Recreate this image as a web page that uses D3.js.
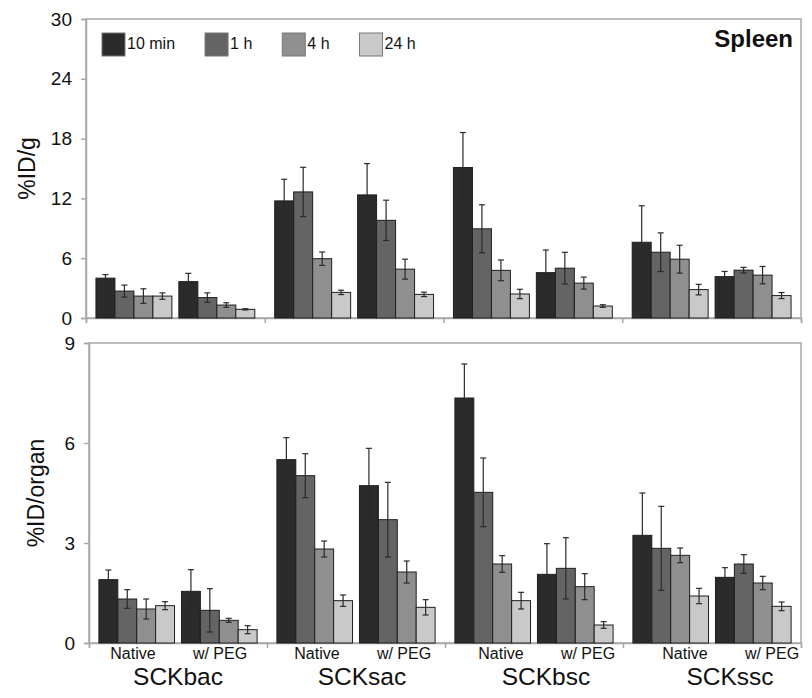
<!DOCTYPE html>
<html><head><meta charset="utf-8">
<script src="https://cdn.jsdelivr.net/npm/d3@7"></script>
<style>
html,body{margin:0;padding:0;background:#fff;}
svg{display:block;font-family:"Liberation Sans",Arial,sans-serif;}
</style></head>
<body><svg id="chart" width="812" height="698"></svg>
<script>
const categories = ['SCKbac','SCKsac','SCKbsc','SCKssc'];
const forms = ['Native','w/ PEG'];
const times = ['10 min','1 h','4 h','24 h'];
const colors = ['#2b2b2b','#646464','#8f8f8f','#c9c9c9'];

// rows: category x form (Native, w/ PEG), columns: times
const perGramMean = [
  [4.0, 2.7, 2.2, 2.2], [3.65, 2.05, 1.3, 0.87],
  [11.75, 12.65, 5.95, 2.57], [12.35, 9.8, 4.9, 2.37],
  [15.1, 8.95, 4.78, 2.41], [4.55, 5.0, 3.5, 1.2],
  [7.6, 6.6, 5.9, 2.85], [4.15, 4.8, 4.3, 2.25]
];
const perGramErr = [
  [0.35, 0.6, 0.73, 0.32], [0.83, 0.47, 0.23, 0.06],
  [2.17, 2.47, 0.67, 0.22], [3.14, 2.02, 1.0, 0.22],
  [3.51, 2.41, 1.04, 0.47], [2.27, 1.59, 0.6, 0.13],
  [3.66, 1.94, 1.4, 0.53], [0.52, 0.28, 0.87, 0.3]
];
const perOrganMean = [
  [1.90, 1.32, 1.02, 1.12], [1.55, 0.98, 0.68, 0.40],
  [5.50, 5.02, 2.82, 1.27], [4.72, 3.70, 2.13, 1.07],
  [7.35, 4.52, 2.37, 1.27], [2.06, 2.24, 1.69, 0.54],
  [3.23, 2.84, 2.63, 1.41], [1.97, 2.37, 1.80, 1.10]
];
const perOrganErr = [
  [0.29, 0.28, 0.30, 0.12], [0.65, 0.65, 0.06, 0.12],
  [0.66, 0.66, 0.24, 0.17], [1.12, 1.12, 0.33, 0.23],
  [1.02, 1.03, 0.25, 0.25], [0.92, 0.92, 0.39, 0.10],
  [1.27, 1.26, 0.22, 0.23], [0.29, 0.28, 0.20, 0.13]
];
const gramTicks = [0, 6, 12, 18, 24, 30];
const organTicks = [0, 3, 6, 9];

const svg = d3.select('#chart');
const frameColor = '#a8a8a8';

function panel(opts) {
  const {x0, x1, yTop, yBot, max, ticks, means, errs, ylabel, ylabelX} = opts;
  const g = svg.append('g');
  const y = d3.scaleLinear().domain([0, max]).range([yBot, yTop]);
  const xc = d3.scaleBand().domain(categories).range([x0, x1]).padding(0);
  const xf = d3.scaleBand().domain(forms).range([0, xc.bandwidth()])
    .paddingInner(0.084).paddingOuter(0.12);
  const xt = d3.scaleBand().domain(times).range([0, xf.bandwidth()]).padding(0);

  // frame
  g.append('rect').attr('x', x0).attr('y', yTop).attr('width', x1 - x0).attr('height', yBot - yTop)
    .attr('fill', 'none').attr('stroke', frameColor).attr('stroke-width', 1.5);

  // y axis
  const ya = g.append('g').attr('transform', `translate(${x0},0)`)
    .call(d3.axisLeft(y).tickValues(ticks).tickSize(5).tickPadding(9).tickFormat(d3.format('d')));
  ya.select('.domain').attr('stroke', frameColor).attr('stroke-width', 1.5);
  ya.selectAll('.tick line').attr('stroke', frameColor).attr('stroke-width', 1.5);
  ya.selectAll('.tick text').attr('font-size', 19).attr('fill', '#111')
    .attr('font-family', '"Liberation Sans",Arial,sans-serif');

  // x axis (category boundaries)
  const xb = d3.scaleLinear().domain([0, categories.length]).range([x0, x1]);
  const xa = g.append('g').attr('transform', `translate(0,${yBot})`)
    .call(d3.axisBottom(xb).tickValues(d3.range(categories.length + 1)).tickSize(5).tickFormat(''));
  xa.select('.domain').attr('stroke', frameColor).attr('stroke-width', 1.5);
  xa.selectAll('.tick line').attr('stroke', frameColor).attr('stroke-width', 1.5);

  // bars
  const rows = [];
  categories.forEach((c, ci) => forms.forEach((f, fi) => {
    const r = ci * forms.length + fi;
    times.forEach((t, ti) => rows.push({c, f, t, ti, v: means[r][ti], e: errs[r][ti]}));
  }));
  const bx = d => xc(d.c) + xf(d.f) + xt(d.t);
  g.append('g').selectAll('rect').data(rows).join('rect')
    .attr('x', bx).attr('width', xt.bandwidth())
    .attr('y', d => y(d.v)).attr('height', d => y(0) - y(d.v))
    .attr('fill', d => colors[d.ti]).attr('stroke', '#1e1e1e').attr('stroke-width', 1);

  // error bars
  const eg = g.append('g').attr('stroke', '#2a2a2a').attr('stroke-width', 1.2);
  rows.forEach(d => {
    const cx = bx(d) + xt.bandwidth() / 2;
    eg.append('line').attr('x1', cx).attr('x2', cx).attr('y1', y(d.v + d.e)).attr('y2', y(d.v - d.e));
    [d.v + d.e, d.v - d.e].forEach(v => {
      eg.append('line').attr('x1', cx - 3).attr('x2', cx + 3).attr('y1', y(v)).attr('y2', y(v));
    });
  });

  // y label
  g.append('text').attr('transform', `translate(${ylabelX},${(yTop + yBot) / 2}) rotate(-90)`)
    .attr('text-anchor', 'middle').attr('font-size', 23).attr('fill', '#111').text(ylabel);
  return {y, xc};
}

panel({x0: 86, x1: 801, yTop: 19, yBot: 318, max: 30, ticks: gramTicks,
  means: perGramMean, errs: perGramErr, ylabel: '%ID/g', ylabelX: 35});
panel({x0: 89, x1: 801, yTop: 343, yBot: 643, max: 9, ticks: organTicks,
  means: perOrganMean, errs: perOrganErr, ylabel: '%ID/organ', ylabelX: 44});

// x labels
const xl = d3.scaleBand().domain(categories).range([86, 822]);
const subOffset = d3.scaleOrdinal().domain(forms).range([-45, 42]);
const lab = svg.append('g').attr('fill', '#111').attr('text-anchor', 'middle');
categories.forEach(c => {
  const cx = xl(c) + xl.bandwidth() / 2;
  forms.forEach(f => lab.append('text').attr('x', cx + subOffset(f)).attr('y', 659)
    .attr('font-size', 16).text(f));
  lab.append('text').attr('x', cx).attr('y', 685).attr('font-size', 24.5).text(c);
});

// legend
const leg = svg.append('g');
let lx = 102;
times.forEach((t, i) => {
  leg.append('rect').attr('x', lx).attr('y', 33).attr('width', 23).attr('height', 23)
    .attr('fill', colors[i]).attr('stroke', '#777').attr('stroke-width', 1);
  const tx = leg.append('text').attr('x', lx + 25).attr('y', 49).attr('font-size', 16)
    .attr('fill', '#111').text(t);
  lx += 25 + tx.node().getComputedTextLength() + 30;
});

// panel title
svg.append('text').attr('x', 793).attr('y', 47).attr('text-anchor', 'end')
  .attr('font-size', 24).attr('font-weight', 'bold').attr('fill', '#111').text('Spleen');
</script></body></html>
